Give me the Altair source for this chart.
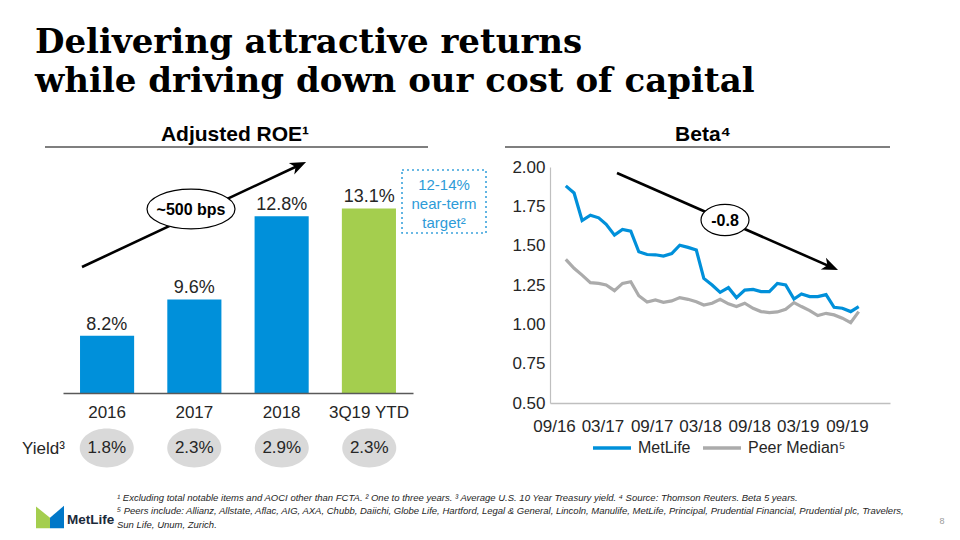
import altair as alt
import pandas as pd

# ---------------- data ----------------
TITLE_LINES = ["Delivering attractive returns", "while driving down our cost of capital"]
ROE_CATS = ["2016", "2017", "2018", "3Q19 YTD"]
ROE_VALUES = [8.2, 9.6, 12.8, 13.1]
ROE_LABELS = ["8.2%", "9.6%", "12.8%", "13.1%"]
YIELD_LABELS = ["1.8%", "2.3%", "2.9%", "2.3%"]

BETA_DATES = [
    "2016-10-15", "2016-11-15", "2016-12-15", "2017-01-15", "2017-02-15", "2017-03-15",
    "2017-04-15", "2017-05-15", "2017-06-15", "2017-07-15", "2017-08-15", "2017-09-15",
    "2017-10-15", "2017-11-15", "2017-12-15", "2018-01-15", "2018-02-15", "2018-03-15",
    "2018-04-15", "2018-05-15", "2018-06-15", "2018-07-15", "2018-08-15", "2018-09-15",
    "2018-10-15", "2018-11-15", "2018-12-15", "2019-01-15", "2019-02-15", "2019-03-15",
    "2019-04-15", "2019-05-15", "2019-06-15", "2019-07-15", "2019-08-15", "2019-09-15",
    "2019-10-15",
]
METLIFE_BETA = [1.88, 1.835, 1.66, 1.694, 1.677, 1.636, 1.567, 1.603, 1.592, 1.461, 1.444,
                1.442, 1.434, 1.45, 1.503, 1.489, 1.472, 1.292, 1.25, 1.203, 1.233, 1.17,
                1.218, 1.222, 1.208, 1.208, 1.26, 1.25, 1.161, 1.193, 1.176, 1.176, 1.189,
                1.108, 1.102, 1.081, 1.113]
PEER_BETA = [1.413, 1.356, 1.313, 1.265, 1.26, 1.25, 1.214, 1.26, 1.271, 1.182, 1.142,
             1.155, 1.14, 1.149, 1.17, 1.159, 1.144, 1.123, 1.134, 1.159, 1.13, 1.113,
             1.134, 1.102, 1.081, 1.075, 1.079, 1.096, 1.138, 1.113, 1.087, 1.056, 1.07,
             1.06, 1.039, 1.011, 1.081]
SERIES = ["MetLife", "Peer Median⁵"]
BETA_XTICKS = ["2016-09-01", "2017-03-01", "2017-09-01", "2018-03-01",
               "2018-09-01", "2019-03-01", "2019-09-01"]
BETA_XDOMAIN = ["2016-08-17", "2020-02-09"]
BETA_YTICKS = [0.5, 0.75, 1.0, 1.25, 1.5, 1.75, 2.0]
BETA_YDOMAIN = [0.5, 2.0]
ROE_YDOMAIN = [6, 16]

TARGET_LINES = ["12-14%", "near-term", "target²"]
FOOTNOTES = [
    "¹ Excluding total notable items and AOCI other than FCTA. ² One to three years. ³ Average U.S. 10 Year Treasury yield. ⁴ Source: Thomson Reuters. Beta 5 years.",
    "⁵ Peers include: Allianz, Allstate, Aflac, AIG, AXA, Chubb, Daiichi, Globe Life, Hartford, Legal & General, Lincoln, Manulife, MetLife, Principal, Prudential Financial, Prudential plc, Travelers,",
    "Sun Life, Unum, Zurich.",
]

# ---------------- style ----------------
W, H = 944, 524
FONT = "Liberation Sans"
BLUE = "#0090DA"
GREEN = "#A4CE4E"
GRAY = "#ABABAB"
TXT = "#262626"


def ELLIPSE(r):
    return f"M -1 0 A 1 {r} 0 1 0 1 0 A 1 {r} 0 1 0 -1 0 Z"


ARROW = "M 1 0 L -1 -0.8 L -0.45 0 L -1 0.8 Z"


def dt(s):
    y, m, d = (int(p) for p in s.split("-"))
    return alt.DateTime(year=y, month=m, date=d, utc=True)


one = pd.DataFrame([{"k": 0}])


def label(text, x, y, size=17, weight="normal", align="center", baseline="middle",
          color=TXT, font=FONT, style="normal", line_height=None):
    kw = dict(text=text, font=font, fontSize=size, fontWeight=weight, align=align,
              baseline=baseline, color=color, fontStyle=style)
    if line_height:
        kw["lineHeight"] = line_height
    return alt.Chart(one).mark_text(**kw).encode(x=alt.value(x), y=alt.value(y))


def segment(x1, y1, x2, y2, width=2.5, color="black"):
    return alt.Chart(one).mark_rule(strokeWidth=width, color=color).encode(
        x=alt.value(x1), y=alt.value(y1), x2=alt.value(x2), y2=alt.value(y2))


def symbol(shape, x, y, size, fill, stroke=None, sw=1.2, angle=0):
    kw = dict(shape=shape, size=size, filled=True, fill=fill, opacity=1, angle=angle)
    if stroke:
        kw.update(stroke=stroke, strokeWidth=sw)
    else:
        kw.update(strokeWidth=0)
    return alt.Chart(one).mark_point(**kw).encode(x=alt.value(x), y=alt.value(y))


# ---------------- ROE bar chart ----------------
roe_df = pd.DataFrame({"cat": ROE_CATS, "roe": ROE_VALUES, "label": ROE_LABELS, "yld": YIELD_LABELS})


def bx():
    return alt.Scale(domain=ROE_CATS, range=[55, 405], paddingInner=0.38, paddingOuter=0.195)


def by():
    return alt.Scale(domain=ROE_YDOMAIN, range=[385, 125])


bars = alt.Chart(roe_df).mark_bar().encode(
    x=alt.X("cat:N", scale=bx(), sort=ROE_CATS,
            axis=alt.Axis(orient="bottom", offset=385 - H, title=None, labelAngle=0, ticks=False,
                          labelFont=FONT, labelFontSize=17, labelColor=TXT, labelPadding=11,
                          domainColor="#595959", domainWidth=1.5, zindex=1)),
    y=alt.Y("roe:Q", scale=by(), axis=None),
    y2=alt.datum(ROE_YDOMAIN[0]),
    color=alt.condition(alt.datum.cat == "3Q19 YTD", alt.value(GREEN), alt.value(BLUE)),
)
bar_labels = alt.Chart(roe_df).mark_text(font=FONT, fontSize=18, color=TXT, baseline="alphabetic", dy=-6).encode(
    x=alt.X("cat:N", scale=bx(), sort=ROE_CATS, axis=None),
    y=alt.Y("roe:Q", scale=by(), axis=None),
    text="label:N",
)
yield_bg = alt.Chart(roe_df).mark_point(shape=ELLIPSE(0.72), size=2916, filled=True, fill="#D9D9D9",
                                         opacity=1, strokeWidth=0).encode(
    x=alt.X("cat:N", scale=bx(), sort=ROE_CATS, axis=None), y=alt.value(440))
yield_txt = alt.Chart(roe_df).mark_text(font=FONT, fontSize=17, color=TXT).encode(
    x=alt.X("cat:N", scale=bx(), sort=ROE_CATS, axis=None), y=alt.value(440), text="yld:N")

# ---------------- Beta line chart ----------------
beta_df = pd.DataFrame({
    "date": BETA_DATES + BETA_DATES,
    "beta": PEER_BETA + METLIFE_BETA,
    "series": [SERIES[1]] * len(PEER_BETA) + [SERIES[0]] * len(METLIFE_BETA),
})
lx = alt.Scale(type="utc", domain=[dt(BETA_XDOMAIN[0]), dt(BETA_XDOMAIN[1])], range=[542, 882])
ly = alt.Scale(domain=BETA_YDOMAIN, range=[395, 159])
beta_lines = alt.Chart(beta_df).mark_line(strokeWidth=3.2).encode(
    x=alt.X("date:T", scale=lx,
            axis=alt.Axis(orient="bottom", offset=395 - H, values=[dt(s) for s in BETA_XTICKS],
                          labelExpr="utcFormat(datum.value, '%m/%y')", ticks=False, grid=False,
                          title=None, labelFont=FONT, labelFontSize=17, labelColor=TXT, labelPadding=15,
                          labelFlush=False, labelOverlap=False,
                          domainColor="#BFBFBF", domainWidth=1.5)),
    y=alt.Y("beta:Q", scale=ly,
            axis=alt.Axis(orient="left", offset=-542, values=BETA_YTICKS, format=".2f", ticks=False,
                          grid=False, title=None, labelFont=FONT, labelFontSize=17, labelColor=TXT,
                          labelPadding=5, labelFlush=False, labelOverlap=False,
                          domainColor="#BFBFBF", domainWidth=1.2)),
    color=alt.Color("series:N", scale=alt.Scale(domain=SERIES, range=[BLUE, GRAY]),
                    legend=alt.Legend(orient="none", legendX=583, legendY=419, direction="horizontal",
                                      title=None, symbolType="stroke", symbolSize=1444,
                                      symbolStrokeWidth=3.5, labelFont=FONT, labelFontSize=16,
                                      labelColor=TXT, columnPadding=5, labelOffset=5, padding=0)),
    order=alt.Order("series:N", sort="descending"),
)

# ---------------- annotations ----------------
layers = [
    label(TITLE_LINES, 27, 45, size=34, weight="bold", align="left", baseline="alphabetic",
          color="black", font="DejaVu Serif", line_height=39),
    label("Adjusted ROE¹", 227, 133, size=21, weight="bold", baseline="alphabetic", color="black"),
    label("Beta⁴", 695, 133, size=21, weight="bold", baseline="alphabetic", color="black"),
    segment(37, 139, 420, 139, width=1.2),
    segment(497, 139, 882, 139, width=1.2),
    bars, bar_labels, yield_bg, yield_txt,
    beta_lines,
    # ROE arrow
    segment(74, 259, 292.6, 156.5, width=2.6),
    symbol(ARROW, 290.8, 157.4, 256, "black", angle=334.9),
    symbol(ELLIPSE(0.45), 183, 201, 7744, "white", stroke="black", sw=1.2),
    label("~500 bps", 183, 202, size=16, weight="bold", color="black"),
    # Beta arrow
    segment(609, 165, 824.5, 259.6, width=2.6),
    symbol(ARROW, 822.7, 258.8, 256, "black", angle=23.7),
    symbol(ELLIPSE(0.65), 717, 212, 2304, "white", stroke="black", sw=1.2),
    label("-0.8", 717, 213, size=16, weight="bold", color="black"),
    # target box
    alt.Chart(one).mark_rect(fillOpacity=0, stroke="#3BA3DC", strokeDash=[2, 3], strokeWidth=1.6).encode(
        x=alt.value(394), x2=alt.value(478), y=alt.value(162), y2=alt.value(225)),
    label(TARGET_LINES, 436, 182, size=15, baseline="alphabetic", color="#2D9BD8", line_height=19),
    label("Yield³", 14, 441, size=17, align="left"),
    # footer
    symbol("M -1 -0.75 L 0 0.05 L 0 0.8 L -1 0.8 Z", 42, 509, 784, GREEN),
    symbol("M 0 0.05 L 1 -0.8 L 1 0.8 L 0 0.8 Z", 42, 509, 784, "#0077C8"),
    label("MetLife", 59, 516, size=13.5, weight="bold", align="left", baseline="alphabetic", color="#1B2A3A"),
    label(FOOTNOTES, 109, 493, size=9.5, align="left", baseline="alphabetic", style="italic", line_height=13.3),
    label("8", 934, 513, size=9, color="#9A9A9A"),
]

chart = alt.layer(*layers).resolve_scale(x="independent", y="independent", color="independent").properties(
    width=W, height=H, autosize=alt.AutoSizeParams(type="none"), padding=0, background="white"
).configure_view(stroke=None)

chart.save("out.html", embed_options={"renderer": "svg", "actions": False})
